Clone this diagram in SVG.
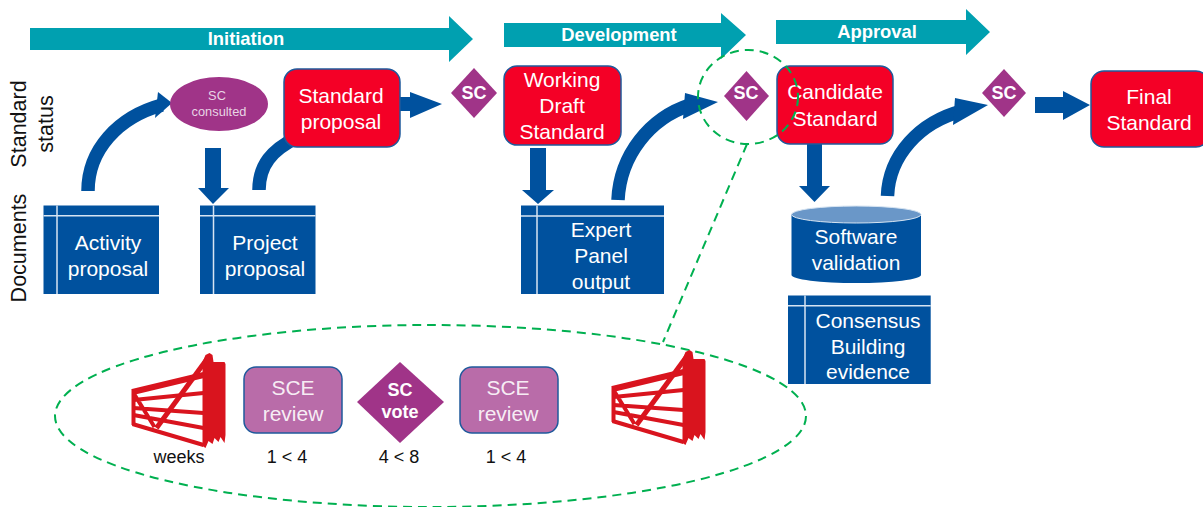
<svg xmlns="http://www.w3.org/2000/svg" xmlns:xlink="http://www.w3.org/1999/xlink" width="1203" height="507" viewBox="0 0 1203 507">
<style>
text{font-family:"Liberation Sans",Arial,sans-serif;text-anchor:middle}
.w{fill:#fff;font-size:21px}
.k{fill:#111;font-size:21.500px}
.s{fill:#111;font-size:18px}
.b{fill:#fff;font-size:18px;font-weight:bold}
.h{fill:#fff;font-size:18.400px;font-weight:bold}
.red{fill:#F40026;stroke:#1F5A9C;stroke-width:1.5}
.sce{fill:#B96CA9;stroke:#1F5A9C;stroke-width:1.5}
.dia{fill:#A03488}
.tbl{fill:#00519E}
.gl{stroke:#D6E4F2;stroke-width:1.5;fill:none}
.teal{fill:#00A0B0}
.arc{fill:none;stroke:#00519E;stroke-width:13.5}
.arr{fill:#00519E}
.dash{fill:none;stroke:#00B050;stroke-width:2;stroke-dasharray:9 6}
.rail{fill:none;stroke:#D9141E;stroke-width:4}
.gate{fill:#D9141E}
</style>
<defs>
<g id="gate">
<path class="rail" style="stroke-width:6" d="M0,3 L71,-14"/>
<path class="rail" d="M1,11 L71,4 M1,19 L71,24 M1,26 L71,39 M0,35 L71,56 M1,4 L22,38"/>
<path class="rail" style="stroke-width:5" d="M24,39 L76,-32"/>
<path class="rail" d="M1,0 V36"/>
<path class="gate" d="M70,-27 L73,-34 L77,-36 L80,-34 L81,-27 L92,-27 L93,-25 L93,46 L92,54 L88,48 L86,53 L82,49 L80,55 L76,52 L73,59 L70,57 Z"/>
</g>
</defs>

<g id="phase-initiation"><polygon class="teal" points="30,28 449,28 449,16 473,39 449,62 449,50 30,50"/><text class="h" x="246" y="45">Initiation</text></g>
<g id="phase-development"><polygon class="teal" points="504,23 721,23 721,13 746,35 721,59 721,47 504,47"/><text class="h" x="619" y="41">Development</text></g>
<g id="phase-approval"><polygon class="teal" points="776,20 966,20 966,9 990,32 966,55 966,44 776,44"/><text class="h" x="877" y="38">Approval</text></g>

<g id="label-standard-status"><text class="k" transform="translate(26,124) rotate(-90)">Standard</text><text class="k" transform="translate(53,124) rotate(-90)">status</text></g>
<g id="label-documents"><text class="k" transform="translate(26,248) rotate(-90)">Documents</text></g>

<g id="connectors">
<path class="arc" d="M88,191 C88,150 118,117 162,105"/><polygon class="arr" points="158,92 172,103 155,118"/>
<path class="arc" d="M259,190 C259,165 272,150 296,138"/>
<polygon class="arr" points="400,97 410,97 410,92 442,104 410,118 410,111 400,111"/>
<polygon class="arr" points="205,148 221,148 221,188 229,188 213,204 198,188 205,188"/>
<polygon class="arr" points="530,148 546,148 546,190 554,190 538,204 522,190 530,190"/>
<path class="arc" d="M618,200 C620,155 650,118 690,105"/><polygon class="arr" points="685,93 718,102 683,119"/>
<polygon class="arr" points="807,144 822,144 822,186 830,186 814.500,202 799,186 807,186"/>
<path class="arc" d="M887.500,196 C889,155 920,122 962,111"/><polygon class="arr" points="955,98 988,105 953,125"/>
<polygon class="arr" points="1035,97 1063,97 1063,91 1090,105 1063,120 1063,113 1035,113"/>
</g>

<g id="node-sc-consulted"><ellipse class="dia" cx="219" cy="104" rx="49" ry="27"/><text fill="#E8D5E5" font-size="12.800" x="217" y="100">SC</text><text fill="#E8D5E5" font-size="12.800" x="219" y="116">consulted</text></g>
<g id="node-standard-proposal"><rect class="red" x="284" y="69" width="116" height="78" rx="13"/><text class="w" x="341" y="103">Standard</text><text class="w" x="341" y="129">proposal</text></g>
<g id="node-sc-1"><polygon class="dia" points="474,68 497,93 474,118 451,93"/><text class="b" x="474" y="99">SC</text></g>
<g id="node-working-draft"><rect class="red" x="504" y="66" width="117" height="79" rx="13"/><text class="w" x="562" y="87">Working</text><text class="w" x="562" y="113">Draft</text><text class="w" x="562" y="139">Standard</text></g>
<g id="node-sc-2"><polygon class="dia" points="746.500,71 769,96 746.500,121 724,96"/><text class="b" x="746" y="99">SC</text></g>
<g id="node-candidate"><rect class="red" x="777" y="66" width="116" height="78" rx="13"/><text class="w" x="835" y="99">Candidate</text><text class="w" x="835" y="126">Standard</text></g>
<g id="node-sc-3"><polygon class="dia" points="1004,69 1026,93 1004,117 982,93"/><text class="b" x="1004" y="99">SC</text></g>
<g id="node-final"><rect class="red" x="1091" y="71" width="118" height="76" rx="13"/><text class="w" x="1149" y="104">Final</text><text class="w" x="1149" y="130">Standard</text></g>

<g id="node-activity"><rect class="tbl" x="43.500" y="205.500" width="115.500" height="88.500"/><path class="gl" d="M43.500,215.700H159M57,205.500V294"/><text class="w" x="108" y="250">Activity</text><text class="w" x="108" y="276">proposal</text></g>
<g id="node-project"><rect class="tbl" x="200" y="205.500" width="115.500" height="88.500"/><path class="gl" d="M200,215.700H315.500M213.500,205.500V294"/><text class="w" x="265" y="250">Project</text><text class="w" x="265" y="276">proposal</text></g>
<g id="node-expert"><rect class="tbl" x="521" y="205.500" width="143" height="88.500"/><path class="gl" d="M521,216H664M537,205.500V294"/><text class="w" x="601" y="237">Expert</text><text class="w" x="601" y="263">Panel</text><text class="w" x="601" y="289">output</text></g>
<g id="node-software"><path class="tbl" d="M791.500,214V275A64.750,8 0 0 0 921,275V214Z"/><ellipse cx="856.250" cy="214.500" rx="64.750" ry="8.500" fill="#6A97C8" stroke="#D6E4F2" stroke-width="1"/><text class="w" x="856" y="244">Software</text><text class="w" x="856" y="270">validation</text></g>
<g id="node-consensus"><rect class="tbl" x="788" y="295.500" width="142.700" height="88.500"/><path class="gl" d="M788,305.700H930.700M805,295.500V384"/><text class="w" x="868" y="328">Consensus</text><text class="w" x="868" y="354">Building</text><text class="w" x="868" y="379">evidence</text></g>

<g id="zoom-callout">
<ellipse class="dash" cx="748" cy="97" rx="50" ry="47"/>
<path class="dash" d="M747,144 L663,342"/>
<ellipse class="dash" cx="430.500" cy="416" rx="375.500" ry="91"/>
</g>

<g id="gate-1"><use xlink:href="#gate" href="#gate" x="132.500" y="389"/></g>
<g id="gate-2"><use xlink:href="#gate" href="#gate" x="612.500" y="386"/></g>
<g id="node-sce-1"><rect class="sce" x="244" y="367" width="98" height="66" rx="12"/><text class="w" x="293" y="395" fill-opacity=".9">SCE</text><text class="w" x="293" y="421" fill-opacity=".9">review</text></g>
<g id="node-vote"><polygon class="dia" points="400,362 444,402 400,443 357,402"/><text class="b" x="400" y="396">SC</text><text class="b" x="400" y="418">vote</text></g>
<g id="node-sce-2"><rect class="sce" x="460" y="367" width="98" height="66" rx="12"/><text class="w" x="508" y="395" fill-opacity=".9">SCE</text><text class="w" x="508" y="421" fill-opacity=".9">review</text></g>
<g id="timeline"><text class="s" x="179" y="463">weeks</text><text class="s" x="287" y="463">1 &lt; 4</text><text class="s" x="399" y="463">4 &lt; 8</text><text class="s" x="506" y="463">1 &lt; 4</text></g>
</svg>
